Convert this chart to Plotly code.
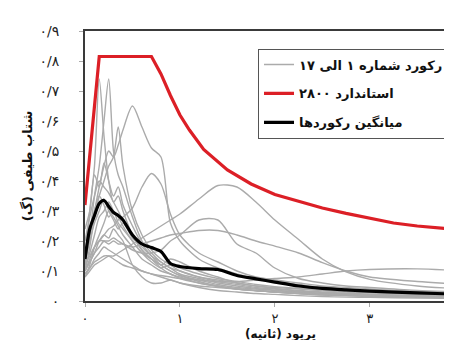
import plotly.graph_objects as go

# ---------------- data ----------------
period = [0, 0.05, 0.1, 0.15, 0.2, 0.25, 0.3, 0.35, 0.4, 0.5, 0.6, 0.7, 0.8, 0.9,
          1.0, 1.2, 1.4, 1.6, 1.8, 2.0, 2.25, 2.5, 2.75, 3.0, 3.5, 4.0]

rec01 = [0.14, 0.30, 0.45, 0.74, 0.55, 0.40, 0.33, 0.35, 0.30, 0.22, 0.17, 0.14, 0.12, 0.10, 0.085, 0.07, 0.055, 0.045, 0.04, 0.035, 0.03, 0.025, 0.022, 0.02, 0.016, 0.013]
rec02 = [0.12, 0.22, 0.35, 0.45, 0.60, 0.74, 0.50, 0.42, 0.38, 0.28, 0.20, 0.16, 0.13, 0.11, 0.09, 0.075, 0.06, 0.05, 0.042, 0.036, 0.03, 0.026, 0.022, 0.02, 0.016, 0.013]
rec03 = [0.10, 0.18, 0.28, 0.35, 0.40, 0.45, 0.48, 0.58, 0.45, 0.30, 0.22, 0.17, 0.14, 0.12, 0.10, 0.08, 0.065, 0.055, 0.045, 0.04, 0.033, 0.028, 0.024, 0.021, 0.017, 0.014]
rec04 = [0.15, 0.22, 0.30, 0.38, 0.45, 0.50, 0.48, 0.52, 0.57, 0.65, 0.58, 0.51, 0.48, 0.26, 0.20, 0.14, 0.11, 0.09, 0.075, 0.065, 0.055, 0.045, 0.04, 0.035, 0.028, 0.022]
rec05 = [0.10, 0.14, 0.18, 0.20, 0.22, 0.24, 0.25, 0.27, 0.28, 0.31, 0.38, 0.425, 0.39, 0.29, 0.22, 0.16, 0.13, 0.10, 0.08, 0.07, 0.06, 0.05, 0.045, 0.04, 0.032, 0.026]
rec06 = [0.08, 0.10, 0.12, 0.13, 0.14, 0.15, 0.15, 0.16, 0.17, 0.19, 0.21, 0.23, 0.25, 0.27, 0.29, 0.34, 0.385, 0.38, 0.33, 0.27, 0.205, 0.14, 0.097, 0.072, 0.05, 0.04]
rec07 = [0.12, 0.15, 0.18, 0.20, 0.20, 0.19, 0.20, 0.19, 0.19, 0.17, 0.16, 0.16, 0.17, 0.20, 0.22, 0.27, 0.27, 0.19, 0.16, 0.11, 0.075, 0.06, 0.05, 0.045, 0.035, 0.03]
rec08 = [0.10, 0.13, 0.16, 0.18, 0.20, 0.20, 0.21, 0.20, 0.19, 0.18, 0.19, 0.20, 0.21, 0.22, 0.225, 0.235, 0.235, 0.22, 0.20, 0.183, 0.16, 0.128, 0.10, 0.08, 0.065, 0.055]
rec09 = [0.09, 0.11, 0.13, 0.14, 0.15, 0.15, 0.14, 0.13, 0.12, 0.11, 0.10, 0.09, 0.085, 0.08, 0.075, 0.07, 0.065, 0.065, 0.07, 0.075, 0.08, 0.09, 0.10, 0.105, 0.107, 0.10]
rec10 = [0.20, 0.28, 0.35, 0.40, 0.38, 0.36, 0.33, 0.30, 0.27, 0.22, 0.17, 0.14, 0.11, 0.09, 0.08, 0.06, 0.05, 0.04, 0.035, 0.03, 0.025, 0.022, 0.02, 0.018, 0.015, 0.012]
rec11 = [0.24, 0.30, 0.42, 0.38, 0.46, 0.40, 0.35, 0.38, 0.32, 0.25, 0.19, 0.15, 0.12, 0.10, 0.085, 0.065, 0.05, 0.04, 0.035, 0.03, 0.025, 0.02, 0.018, 0.016, 0.013, 0.011]
rec12 = [0.08, 0.12, 0.18, 0.22, 0.26, 0.30, 0.28, 0.25, 0.22, 0.18, 0.14, 0.12, 0.10, 0.09, 0.075, 0.06, 0.048, 0.04, 0.034, 0.03, 0.025, 0.021, 0.018, 0.016, 0.013, 0.01]
rec13 = [0.10, 0.13, 0.16, 0.20, 0.22, 0.21, 0.24, 0.22, 0.20, 0.12, 0.08, 0.06, 0.06, 0.07, 0.06, 0.045, 0.035, 0.03, 0.025, 0.022, 0.018, 0.015, 0.013, 0.012, 0.01, 0.008]
rec14 = [0.16, 0.22, 0.30, 0.35, 0.32, 0.28, 0.30, 0.26, 0.24, 0.20, 0.16, 0.14, 0.12, 0.14, 0.13, 0.10, 0.08, 0.06, 0.05, 0.042, 0.035, 0.03, 0.026, 0.023, 0.018, 0.015]
rec15 = [0.09, 0.11, 0.14, 0.16, 0.18, 0.17, 0.16, 0.15, 0.14, 0.12, 0.10, 0.09, 0.08, 0.07, 0.06, 0.05, 0.045, 0.04, 0.035, 0.03, 0.026, 0.022, 0.02, 0.018, 0.015, 0.012]
rec16 = [0.13, 0.20, 0.26, 0.30, 0.34, 0.30, 0.27, 0.24, 0.26, 0.21, 0.18, 0.15, 0.13, 0.11, 0.10, 0.08, 0.07, 0.06, 0.05, 0.045, 0.04, 0.035, 0.03, 0.027, 0.022, 0.018]
rec17 = [0.11, 0.16, 0.22, 0.28, 0.30, 0.33, 0.30, 0.28, 0.25, 0.20, 0.16, 0.13, 0.11, 0.12, 0.11, 0.09, 0.075, 0.065, 0.055, 0.048, 0.042, 0.036, 0.032, 0.028, 0.022, 0.018]

records = [rec01, rec02, rec03, rec04, rec05, rec06, rec07, rec08, rec09,
           rec10, rec11, rec12, rec13, rec14, rec15, rec16, rec17]

mean_sa = [0.14, 0.24, 0.285, 0.325, 0.335, 0.315, 0.295, 0.285, 0.27, 0.22, 0.19, 0.178, 0.165, 0.125,
           0.115, 0.108, 0.105, 0.085, 0.074, 0.063, 0.05, 0.042, 0.037, 0.033, 0.027, 0.022]

std_period = [0, 0.15, 0.7, 0.75, 0.8, 0.9, 1.0, 1.1, 1.25, 1.5, 1.75, 2.0, 2.25, 2.5, 2.75,
              3.0, 3.25, 3.5, 3.75, 4.0]
std_sa = [0.32, 0.815, 0.815, 0.785, 0.757, 0.685, 0.62, 0.57, 0.505, 0.437, 0.39, 0.355, 0.333,
          0.31, 0.292, 0.275, 0.26, 0.25, 0.243, 0.236]

x_tick_vals = [0, 1, 2, 3]
x_tick_text = ["۰", "۱", "۲", "۳"]
y_tick_vals = [0, 0.1, 0.2, 0.3, 0.4, 0.5, 0.6, 0.7, 0.8, 0.9]
y_tick_text = ["۰", "۰/۱", "۰/۲", "۰/۳", "۰/۴", "۰/۵", "۰/۶", "۰/۷", "۰/۸", "۰/۹"]

name_records = "رکورد شماره ۱ الی ۱۷"
name_std = "استاندارد ۲۸۰۰"
name_mean = "میانگین رکوردها"
x_title = "\u200fپریود (ثانیه)\u200f"
y_title = "\u200fشتاب طیفی (گ)\u200f"

# ---------------- figure ----------------
FONT = "DejaVu Sans"
fig = go.Figure()

for i, rec in enumerate(records):
    fig.add_trace(go.Scatter(
        x=period, y=rec, mode="lines",
        line=dict(color="#ababab", width=1.4, shape="spline", smoothing=0.8),
        name=name_records, legendgroup="rec", showlegend=(i == 0),
        hoverinfo="skip"))

fig.add_trace(go.Scatter(
    x=std_period, y=std_sa, mode="lines",
    line=dict(color="#dc1f26", width=3.2),
    name=name_std, legendgroup="std"))

fig.add_trace(go.Scatter(
    x=period, y=mean_sa, mode="lines",
    line=dict(color="#000000", width=3.2, shape="spline", smoothing=0.8),
    name=name_mean, legendgroup="avg"))

fig.update_layout(
    width=452, height=340,
    margin=dict(l=77, r=0, t=23, b=47),
    paper_bgcolor="white", plot_bgcolor="white",
    font=dict(family=FONT, size=12, color="#222222"),
    legend=dict(
        x=0.9707, y=0.935, xanchor="right", yanchor="top",
        bgcolor="white", bordercolor="#555555", borderwidth=1,
        font=dict(family=FONT, size=13, color="#111111", weight="bold"),
        traceorder="grouped", tracegroupgap=9, itemwidth=30),
    xaxis=dict(
        range=[0, 3.95], tickvals=x_tick_vals, ticktext=x_tick_text,
        showgrid=False, zeroline=False,
        showline=True, mirror=True, linecolor="#3a3a3a", linewidth=2,
        ticks="outside", ticklen=4, tickcolor="#aaaaaa", tickwidth=1,
        ticklabelstandoff=0,
        tickfont=dict(family=FONT, size=13, color="#222222")),
    yaxis=dict(
        range=[0, 0.9], tickvals=y_tick_vals, ticktext=y_tick_text,
        showgrid=False, zeroline=False,
        showline=True, mirror=False, linecolor="#3a3a3a", linewidth=2,
        ticks="outside", ticklen=4, tickcolor="#aaaaaa", tickwidth=1,
        ticklabelstandoff=17,
        tickfont=dict(family=FONT, size=14, color="#222222"),
        title=dict(text=y_title, standoff=4,
                   font=dict(family=FONT, size=13, color="#111111", weight="bold"))),
    annotations=[dict(
        text=x_title, xref="paper", yref="paper", x=0.52, y=-0.125,
        xanchor="center", yanchor="middle", showarrow=False,
        font=dict(family=FONT, size=12, color="#111111", weight="bold"))],
)

fig.write_html("out.html")
